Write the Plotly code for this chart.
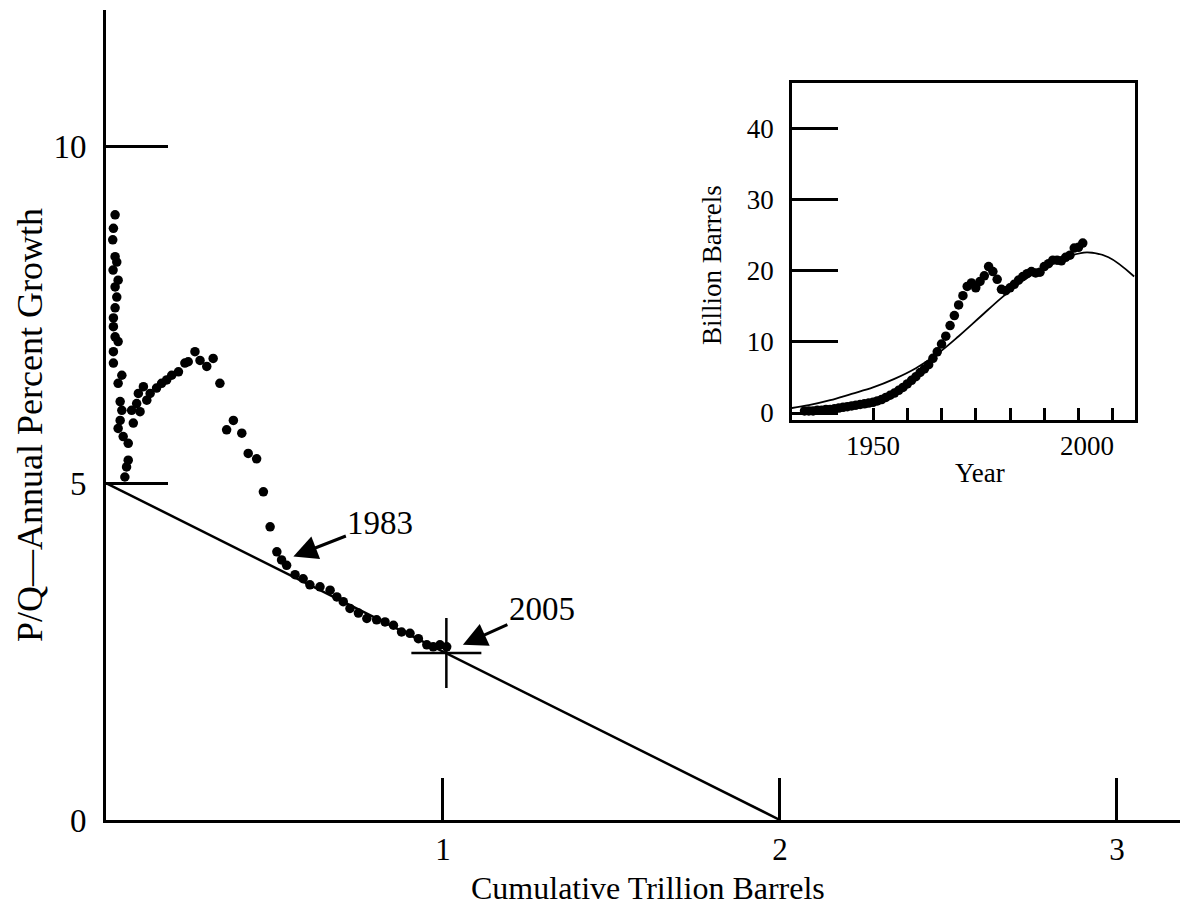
import plotly.graph_objects as go

# ---------------- main chart data (P/Q vs cumulative production) ----------------
cum_trillion = [
    0.027, 0.022, 0.020, 0.027, 0.032, 0.021, 0.036, 0.027, 0.032, 0.027, 0.022, 0.022,
    0.027, 0.036, 0.022, 0.022, 0.047, 0.036, 0.042, 0.047, 0.042, 0.036, 0.051, 0.066,
    0.066, 0.061, 0.056,
    0.081, 0.076, 0.091, 0.101, 0.111, 0.096, 0.121, 0.131, 0.150, 0.165, 0.180, 0.195,
    0.215, 0.234, 0.244, 0.264, 0.279, 0.299, 0.318, 0.338, 0.378, 0.358, 0.403, 0.422,
    0.447, 0.467, 0.487, 0.507, 0.521, 0.536, 0.561, 0.585, 0.605, 0.635, 0.665, 0.685,
    0.704, 0.724, 0.749, 0.774, 0.803, 0.828, 0.853, 0.877, 0.902, 0.927, 0.952, 0.971,
    0.991, 1.011,
]
pq_growth = [
    8.98, 8.78, 8.61, 8.36, 8.28, 8.16, 8.01, 7.91, 7.76, 7.60, 7.45, 7.32,
    7.17, 7.10, 6.95, 6.78, 6.60, 6.48, 6.21, 6.08, 5.93, 5.81, 5.69, 5.59,
    5.34, 5.24, 5.09,
    5.89, 6.08, 6.18, 6.06, 6.43, 6.33, 6.23, 6.33, 6.41, 6.48, 6.53, 6.60,
    6.65, 6.78, 6.80, 6.95, 6.82, 6.73, 6.85, 6.48, 5.93, 5.79, 5.74, 5.44,
    5.36, 4.87, 4.35, 3.98, 3.86, 3.78, 3.64, 3.58, 3.49, 3.46, 3.41, 3.31,
    3.24, 3.14, 3.07, 2.99, 2.97, 2.94, 2.89, 2.79, 2.77, 2.69, 2.60, 2.57,
    2.60, 2.57,
]
fit_x = [0, 2]
fit_y = [5, 0]
mark_2005_x = [1.01]
mark_2005_y = [2.48]

main_x_ticks = [1, 2, 3]
main_y_ticks = [0, 5, 10]

# ---------------- inset data (annual production) ----------------
inset_years = list(range(1934, 2000))
inset_prod = [
    0.3, 0.3, 0.3, 0.4, 0.4, 0.5, 0.5, 0.6, 0.7, 0.8, 0.9, 1.0,
    1.1, 1.2, 1.3, 1.4, 1.5, 1.7, 1.9, 2.2, 2.5, 2.8, 3.2, 3.6,
    4.1, 4.6, 5.1, 5.7, 6.2, 6.8, 7.7, 8.6, 9.7, 10.8, 12.3, 13.7,
    15.2, 16.5, 17.8, 18.3, 17.6, 18.5, 19.3, 20.6, 19.9, 18.8, 17.4, 17.2,
    17.6, 18.1, 18.7, 19.2, 19.6, 19.9, 19.7, 19.8, 20.6, 21.0, 21.5, 21.5,
    21.4, 21.9, 22.2, 23.2, 23.3, 23.9,
]
curve_years = [1931, 1935, 1940, 1945, 1950, 1955, 1960, 1965, 1970, 1975, 1980,
               1985, 1990, 1995, 2000, 2005, 2011]
curve_vals = [0.7, 1.1, 1.8, 2.7, 3.6, 4.8, 6.3, 8.3, 10.8, 13.5, 16.2,
              18.6, 20.5, 21.9, 22.6, 21.9, 19.2]

inset_y_ticks = [0, 10, 20, 30, 40]
inset_x_labels = [1950, 2000]
inset_x_marks = [1950, 1958, 1966, 1974, 1982, 1990, 1998, 2006]

FONT = "Liberation Serif, Times New Roman, serif"

fig = go.Figure()

fig.add_trace(go.Scatter(x=fit_x, y=fit_y, mode="lines",
                         line=dict(color="black", width=2.5), showlegend=False,
                         hoverinfo="skip"))
fig.add_trace(go.Scatter(x=cum_trillion, y=pq_growth, mode="markers",
                         marker=dict(color="black", size=9.5), showlegend=False))
fig.add_trace(go.Scatter(x=mark_2005_x, y=mark_2005_y, mode="markers",
                         marker=dict(symbol="cross-thin", size=50, color="black",
                                     line=dict(color="black", width=2.5)),
                         showlegend=False))

fig.add_trace(go.Scatter(x=curve_years, y=curve_vals, mode="lines",
                         line=dict(color="black", width=1.8, shape="spline"),
                         xaxis="x2", yaxis="y2", showlegend=False))
fig.add_trace(go.Scatter(x=inset_years, y=inset_prod, mode="markers",
                         marker=dict(color="black", size=9.5),
                         xaxis="x2", yaxis="y2", showlegend=False))

W, H = 1180, 909
L, R, T, B = 106, 0, 10, 89
PW, PH = W - L - R, H - T - B


def px(xp):
    return (xp - L) / PW


def py(yp):
    return (H - B - yp) / PH


fig.update_layout(
    width=W, height=H,
    margin=dict(l=L, r=R, t=T, b=B),
    paper_bgcolor="white", plot_bgcolor="white",
    font=dict(family=FONT, color="black", size=33),
    xaxis=dict(range=[0, 3.187], tickvals=main_x_ticks, ticks="inside", ticklen=42,
               tickwidth=3, tickcolor="black", showline=True, linewidth=3,
               linecolor="black", showgrid=False, zeroline=False,
               ticklabelstandoff=0, tickfont=dict(size=31)),
    yaxis=dict(range=[0, 12.02], tickvals=main_y_ticks, ticks="inside", ticklen=62,
               tickwidth=3, tickcolor="black", showline=True, linewidth=3,
               linecolor="black", showgrid=False, zeroline=False,
               ticklabelstandoff=10, tickfont=dict(size=33)),
    xaxis2=dict(domain=[px(792), px(1135)], anchor="y2", range=[1931.07, 2011.2],
                tickvals=inset_x_labels, ticks="", showline=True, mirror=True,
                linewidth=2.5, linecolor="black", showgrid=False, zeroline=False,
                ticklabelstandoff=0, tickfont=dict(size=27),
                minor=dict(tickvals=inset_x_marks, ticks="inside", ticklen=12,
                           tickwidth=2.5, tickcolor="black", showgrid=False)),
    yaxis2=dict(domain=[py(420), py(83)], anchor="x2", range=[-0.98, 46.41],
                tickvals=inset_y_ticks, ticks="inside", ticklen=46, tickwidth=3,
                tickcolor="black", showline=True, mirror=True, linewidth=2.5,
                linecolor="black", showgrid=False, zeroline=False,
                ticklabelstandoff=10, tickfont=dict(size=27)),
    annotations=[
        dict(text="Cumulative Trillion Barrels", xref="paper", yref="paper",
             x=px(648), y=py(888), showarrow=False, xanchor="center",
             yanchor="middle", font=dict(size=32)),
        dict(text="P/Q\u2014Annual Percent Growth", xref="paper", yref="paper",
             x=px(30), y=py(425), showarrow=False, textangle=-90,
             xanchor="center", yanchor="middle", font=dict(size=36)),
        dict(text="Billion Barrels", xref="paper", yref="paper",
             x=px(712), y=py(265), showarrow=False, textangle=-90,
             xanchor="center", yanchor="middle", font=dict(size=27)),
        dict(text="Year", xref="paper", yref="paper",
             x=px(980), y=py(473), showarrow=False,
             xanchor="center", yanchor="middle", font=dict(size=27)),
        dict(text="1983", xref="x", yref="y", x=0.556, y=3.91,
             ax=87, ay=-34, showarrow=True, arrowhead=2, arrowsize=1.6,
             arrowwidth=3, arrowcolor="black", standoff=0, font=dict(size=33)),
        dict(text="2005", xref="x", yref="y", x=1.059, y=2.60,
             ax=79, ay=-36, showarrow=True, arrowhead=2, arrowsize=1.6,
             arrowwidth=3, arrowcolor="black", standoff=0, font=dict(size=33)),
    ],
)

fig.write_html("out.html")
